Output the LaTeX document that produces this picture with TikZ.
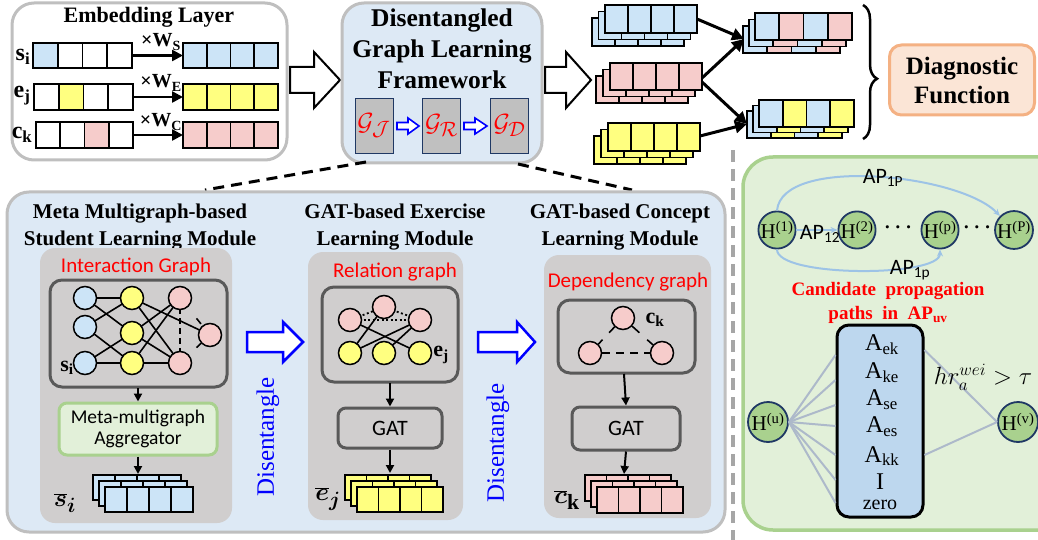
\documentclass[tikz,border=0pt]{standalone}
\usepackage{fontspec}
\setmainfont{Liberation Serif}
\newfontfamily\calib{Carlito}
\usepackage{bm}
\usetikzlibrary{arrows.meta,decorations.pathreplacing,calc}
\definecolor{cblue}{RGB}{204,228,247}
\definecolor{cyel}{RGB}{255,255,128}
\definecolor{cpink}{RGB}{246,204,203}
\definecolor{panelblue}{RGB}{221,233,245}
\definecolor{bordergray}{RGB}{191,191,191}
\definecolor{innergray}{RGB}{208,206,206}
\definecolor{darkgraytwo}{RGB}{89,89,89}
\definecolor{greenfill}{RGB}{226,240,217}
\definecolor{greenborder}{RGB}{169,209,142}
\definecolor{peach}{RGB}{251,229,214}
\definecolor{orangeb}{RGB}{244,177,131}
\definecolor{nodegreen}{RGB}{169,209,142}
\definecolor{navy}{RGB}{31,56,100}
\definecolor{apblue}{RGB}{157,195,230}
\definecolor{boxblue}{RGB}{189,215,238}
\definecolor{edgegray}{RGB}{173,185,202}
\definecolor{gboxc}{RGB}{192,192,192}
\definecolor{dashgray}{RGB}{166,166,166}
\newcommand\fs[2]{\fontsize{#1}{#2}\selectfont}
\newcommand\vrow[5]{\foreach \cc [count=\ii from 0] in {#5}{\draw[cellst,fill=\cc] ({#1+\ii*(#3)},{#2}) rectangle ++({#3},{#4});}}
\newcommand\vstack[7]{\vrow{#1+2*(#6)}{#2+2*(#7)}{#3}{#4}{#5}\vrow{#1+#6}{#2+#7}{#3}{#4}{#5}\vrow{#1}{#2}{#3}{#4}{#5}}
\newcommand\barrow[7]{\draw[#7] ({#1},{#4-#5}) -- ({#2},{#4-#5}) -- ({#2},{#4-#6}) -- ({#3},{#4}) -- ({#2},{#4+#6}) -- ({#2},{#4+#5}) -- ({#1},{#4+#5}) -- cycle;}
\tikzset{
 cellst/.style={draw=black,line width=1.8pt},
 panel/.style={draw=bordergray,line width=3pt,rounded corners=22pt},
 ttl/.style={font=\fs{21}{27}\bfseries,align=center},
 redlbl/.style={text=red,font=\calib\fs{21}{24}},
 gnode/.style={circle,draw=black,line width=1.5pt,minimum size=23pt,inner sep=0pt},
 gedge/.style={line width=1.6pt},
 varrow/.style={-{Triangle[length=8pt,width=8pt]},line width=2pt},
 fatarrow/.style={-{Triangle[length=12pt,width=12pt]},line width=3pt},
 innerbox/.style={draw=darkgraytwo,line width=3pt,rounded corners=12pt},
 gatbox/.style={draw=darkgraytwo,fill=innergray,line width=3pt,rounded corners=8pt,font=\calib\fs{22}{24}},
 gsq/.style={draw=navy,fill=gboxc,line width=0.8pt,minimum width=38pt,minimum height=55pt,inner sep=0pt,text=red,font=\fs{31}{31}},
 hnode/.style={circle,draw=navy,fill=nodegreen,line width=1.8pt,minimum size=37pt,inner sep=0pt,font=\fs{21}{21}},
 apedge/.style={draw=apblue,line width=2pt,-{Stealth[length=7pt,width=6pt]}},
 ledge/.style={draw=edgegray,line width=2pt},
 aplbl/.style={font=\calib\fs{22}{22}},
 barlbl/.style={font=\fs{31}{31}},
 dis/.style={rotate=90,text=blue,font=\fs{25}{25}},
 emlbl/.style={font=\fs{24}{24}\bfseries},
 wlbl/.style={font=\fs{20}{20}\bfseries},
}
\begin{document}
\begin{tikzpicture}[x=1pt,y=-1pt]
\useasboundingbox (0,0) rectangle (1038,540);
% ---------- Embedding layer
\draw[panel,fill=white] (12,3) rectangle (287,160);
\node[font=\fs{22}{24}\bfseries] (embT) at (149,17) {Embedding Layer};
\vrow{33}{43}{24.75}{25}{cblue,white,white,white}
\vrow{34}{84}{24.75}{26}{white,cyel,white,white}
\vrow{36}{122}{24.25}{26}{white,white,cpink,white}
\vrow{183}{43}{23.75}{25}{cblue,cblue,cblue,cblue}
\vrow{183}{84}{23.75}{26}{cyel,cyel,cyel,cyel}
\vrow{183}{122}{23.75}{26}{cpink,cpink,cpink,cpink}
\coordinate (sa) at (132,55.5); \coordinate (sb) at (183,55.5);
\coordinate (ea) at (133,97); \coordinate (eb) at (183,97);
\coordinate (ca) at (133,135); \coordinate (cb) at (183,135);
\foreach \a/\b in {sa/sb,ea/eb,ca/cb}{\draw[-{Triangle[length=11pt,width=11pt]},line width=2.5pt] (\a) -- (\b);}
\node[wlbl] (ws) at (161,42) {×W\textsubscript{S}};
\node[wlbl] (we) at (161,83) {×W\textsubscript{E}};
\node[wlbl] (wc) at (161,122) {×W\textsubscript{C}};
\node[emlbl] (si) at (23,57) {s\textsubscript{i}};
\node[emlbl] (ej) at (22,96) {e\textsubscript{j}};
\node[emlbl] (ck) at (22,135) {c\textsubscript{k}};
% big arrows
\barrow{290}{314}{340}{80}{13}{28}{line width=2pt,draw=black,fill=white}
\barrow{545}{566}{591}{80}{13}{28}{line width=2pt,draw=black,fill=white}
% ---------- Framework
\draw[panel,fill=panelblue] (342,3) rectangle (542,163);
\node[font=\fs{25.5}{31}\bfseries,align=center] (fwT) at (442,49) {Disentangled\\Graph Learning\\Framework};
\node[gsq] (gJ) at (374,125.5) {$\mathcal{G}_{\mathcal{J}}$};
\node[gsq] (gR) at (441.5,125.5) {$\mathcal{G}_{\mathcal{R}}$};
\node[gsq] (gD) at (509.5,125.5) {$\mathcal{G}_{\mathcal{D}}$};
\barrow{397}{408}{419}{126}{3.5}{8}{draw=blue,line width=1.6pt,fill=white}
\barrow{464}{475}{487}{126}{3.5}{8}{draw=blue,line width=1.6pt,fill=white}
% dashed zoom lines
\coordinate (dl1) at (366,162); \coordinate (dl2) at (205,190);
\coordinate (dr1) at (518,164); \coordinate (dr2) at (632,190);
\draw[line width=3pt,dash pattern=on 11pt off 7pt] (dl1) -- (dl2);
\draw[line width=3pt,dash pattern=on 11pt off 7pt] (dr1) -- (dr2);
% ---------- stacks top right
\vstack{605}{5}{23}{28}{cblue,cblue,cblue,cblue}{-6.5}{6.5}
\vstack{610}{63}{23}{27}{cpink,cpink,cpink,cpink}{-7}{6.5}
\vstack{608}{123}{23}{28}{cyel,cyel,cyel,cyel}{-7}{6.5}
\vstack{755}{13}{24.25}{27}{cblue,cpink,cblue,cpink}{-6}{6.5}
\vstack{759}{100}{23.75}{27}{cblue,cyel,cblue,cyel}{-6}{5.5}
\coordinate (bsO) at (697,19); \coordinate (psO) at (702,78); \coordinate (psO2) at (702,82); \coordinate (ysO) at (700,136);
\coordinate (trI) at (744,39); \coordinate (brI) at (747,124);
\draw[fatarrow] (bsO) -- (trI);
\draw[fatarrow] (psO) -- (trI);
\draw[fatarrow] (psO2) -- (brI);
\draw[fatarrow] (ysO) -- (brI);
% brace
\coordinate (br1) at (863,5); \coordinate (br2) at (863,139);
\draw[decorate,decoration={brace,amplitude=14pt,aspect=0.55},line width=2.5pt] (br1) -- (br2);
\node[draw=orangeb,fill=peach,line width=3pt,rounded corners=12pt,minimum width=145pt,minimum height=70pt,font=\fs{25}{29}\bfseries,align=center] (diag) at (962,80) {Diagnostic\\Function};
% vertical gray dashed divider
\coordinate (vd1) at (733,150); \coordinate (vd2) at (733,540);
\draw[dashgray,line width=3.5pt,dash pattern=on 12pt off 7pt] (vd1) -- (vd2);
% ---------- bottom panel
\draw[panel,fill=panelblue] (7,192) rectangle (725,532);
\node[ttl] (m1T) at (140,227) {Meta Multigraph-based\\Student Learning Module};
\node[ttl] (m2T) at (395,227) {GAT-based Exercise\\Learning Module};
\node[ttl] (m3T) at (620,227) {GAT-based Concept\\Learning Module};
\fill[innergray,rounded corners=15pt] (40,248) rectangle (232,523);
\fill[innergray,rounded corners=15pt] (308,252) rectangle (463,520);
\fill[innergray,rounded corners=15pt] (544,255) rectangle (711,518);
\node[redlbl] (ig) at (136,267) {Interaction Graph};
\node[redlbl] (rg) at (395,272) {Relation graph};
\node[redlbl] (dg) at (628,282) {Dependency graph};
\draw[innerbox] (50,280) rectangle (227,387);
\draw[innerbox] (322,287) rectangle (458,382);
\draw[innerbox] (558,300) rectangle (695,373);
% interaction graph
\coordinate (b1) at (85,298); \coordinate (b2) at (85,327); \coordinate (b3) at (85,363);
\coordinate (y1) at (132,298); \coordinate (y2) at (132,333); \coordinate (y3) at (132,363);
\coordinate (p1) at (180,298); \coordinate (p2) at (210,335); \coordinate (p3) at (180,363);
\foreach \a/\b in {b1/y1,b1/y2,b2/y1,b2/y3,b3/y2,b3/y3,y1/p3,y1/p2,y2/p1,y2/p3,y3/p1,y3/p3}{\draw[gedge] (\a) -- (\b);}
\draw[gedge,dash pattern=on 6pt off 4pt] (p1) -- (p3);
\foreach \n in {b1,b2,b3}{\node[gnode,fill=cblue] (N\n) at (\n) {};}
\foreach \n in {y1,y2,y3}{\node[gnode,fill=cyel] (N\n) at (\n) {};}
\foreach \n in {p1,p2,p3}{\node[gnode,fill=cpink] (N\n) at (\n) {};}
\draw[gedge] ($(Np1)!0.55!(Np2)$) -- ($(Np1)!0.7!(Np2)$);
\draw[gedge] ($(Np3)!0.55!(Np2)$) -- ($(Np3)!0.7!(Np2)$);
\node[font=\fs{22}{22}\bfseries] (sil) at (67,368) {s\textsubscript{i}};
% relation graph
\coordinate (q1) at (350,320); \coordinate (q2) at (384,307); \coordinate (q3) at (420,320);
\coordinate (r1) at (350,353); \coordinate (r2) at (384,353); \coordinate (r3) at (420,353);
\foreach \a/\b in {q1/q2,q2/q3,q1/q3}{\draw[line width=1.8pt,dash pattern=on 2pt off 2.5pt] (\a) -- (\b);}
\foreach \a/\b in {q1/r3,q2/r1,q3/r1,q3/r2}{\draw[gedge] (\a) -- (\b);}
\foreach \n in {q1,q2,q3}{\node[gnode,fill=cpink] (N\n) at (\n) {};}
\foreach \n in {r1,r2,r3}{\node[gnode,fill=cyel] (N\n) at (\n) {};}
\node[font=\fs{22}{22}\bfseries] (ejl) at (441,355) {e\textsubscript{j}};
% dependency graph
\node[gnode,fill=cpink] (dt) at (623,318) {};
\node[gnode,fill=cpink] (dlft) at (590,353) {};
\node[gnode,fill=cpink] (drt) at (662,353) {};
\draw[gedge] (dt) -- ($(dt)!0.42!(dlft)$);
\draw[gedge] ($(dt)!0.62!(dlft)$) -- (dlft);
\draw[gedge] (dt) -- ($(dt)!0.42!(drt)$);
\draw[gedge] ($(dt)!0.62!(drt)$) -- (drt);
\draw[gedge,dash pattern=on 8pt off 6pt] (dlft) -- (drt);
\node[font=\fs{22}{22}\bfseries] (ckl) at (655,320) {c\textsubscript{k}};
% aggregator / GAT
\node[draw=greenborder,fill=greenfill,line width=3pt,rounded corners=8pt,minimum width=158pt,minimum height=52pt,align=center,font=\calib\fs{19.5}{21}] (agg) at (138,429) {Meta-multigraph\\Aggregator};
\node[gatbox,minimum width=104pt,minimum height=40pt] (gat1) at (390,428) {GAT};
\node[gatbox,minimum width=108pt,minimum height=43pt] (gat2) at (626,428.5) {GAT};
\coordinate (i1) at (138,388); \coordinate (o1) at (138,474);
\coordinate (i2) at (390,383); \coordinate (o2) at (390,473);
\coordinate (i3) at (624,374); \coordinate (o3) at (624,474);
\draw[varrow] (i1) -- (agg.north);
\draw[varrow] (agg.south) -- (o1);
\draw[varrow] (i2) -- (gat1.north);
\draw[varrow] (gat1.south) -- (o2);
\draw[varrow] (i3) -- (gat2.north);
\draw[varrow] (gat2.south) -- (o3);
\vstack{105}{487}{22}{25}{cblue,cblue,cblue,cblue}{-6}{-6}
\vstack{357}{487}{21.5}{25}{cyel,cyel,cyel,cyel}{-6}{-6}
\vstack{597}{487}{21.5}{26}{cpink,cpink,cpink,cpink}{-6}{-6}
\node[barlbl] (sbar) at (65,503) {$\overline{\bm{s}}_{\bm{i}}$};
\node[barlbl] (ebar) at (328,499) {$\overline{\bm{e}}_{\bm{j}}$};
\node[barlbl] (cbar) at (567,500) {$\overline{\bm{c}}_{\mathbf{k}}$};
% disentangle arrows
\barrow{247}{283}{303}{342}{10}{20}{draw=blue,line width=2.5pt,fill=white}
\barrow{478}{517}{535}{342}{10}{20}{draw=blue,line width=2.5pt,fill=white}
\node[dis] (dis1) at (268,437) {Disentangle};
\node[dis] (dis2) at (498,443) {Disentangle};
% ---------- right green panel
\draw[draw=greenborder,fill=greenfill,line width=3.5pt,rounded corners=30pt] (743,157) rectangle (1070,530);
\node[hnode] (H1) at (777,230) {H\textsuperscript{(1)}};
\node[hnode] (H2) at (857,230) {H\textsuperscript{(2)}};
\node[hnode] (Hp) at (940,230) {H\textsuperscript{(p)}};
\node[hnode] (HP) at (1014,230) {H\textsuperscript{(P)}};
\node[font=\fs{22}{22}] (dots1) at (898,228) {$\bm{\cdots}$};
\node[font=\fs{22}{22}] (dots2) at (977,228) {$\bm{\cdots}$};
\draw[apedge] (H1.north) .. controls +(5,-55) and +(-40,-42) .. (HP.north west);
\draw[apedge] (H1.south) .. controls +(0,28) and +(0,28) .. (Hp.south);
\draw[apedge] (H1.east) -- (H2.west);
\node[aplbl] (ap12) at (820,234) {AP\textsubscript{12}};
\node[aplbl] (ap1P) at (883,178) {AP\textsubscript{1P}};
\node[aplbl] (ap1p) at (910,270) {AP\textsubscript{1p}};
\node[text=red,font=\fs{19}{24}\bfseries,align=center] (cand) at (888,303) {Candidate\ \ propagation\\paths\ \ in\ \ AP\textsubscript{uv}};
\node[hnode,minimum size=40pt] (Hu) at (768,422) {H\textsuperscript{(u)}};
\node[hnode,minimum size=40pt] (Hv) at (1018,422) {H\textsuperscript{(v)}};
\node[draw=black,fill=boxblue,line width=3pt,rounded corners=12pt,minimum width=86pt,minimum height=192pt] (apbox) at (880,421) {};
\foreach \yy [count=\k] in {355,380,405,426,455,480,503}{\coordinate (L\k) at (apbox.west |- 0,\yy); \draw[ledge] (Hu.east) -- (L\k);}
\coordinate (R1) at (apbox.east |- 0,350); \coordinate (R2) at (apbox.east |- 0,455);
\draw[ledge] (R1) -- (Hv.west);
\draw[ledge] (R2) -- (Hv.west);
\node[font=\fs{24}{24}] (aek) at (882,345) {A\textsubscript{ek}};
\node[font=\fs{24}{24}] (ake) at (882,373) {A\textsubscript{ke}};
\node[font=\fs{24}{24}] (ase) at (882,400) {A\textsubscript{se}};
\node[font=\fs{24}{24}] (aes) at (882,427) {A\textsubscript{es}};
\node[font=\fs{24}{24}] (akk) at (882,456) {A\textsubscript{kk}};
\node[font=\fs{24}{24}] (aI) at (880,482) {I};
\node[font=\fs{20}{20}] (azero) at (880,505) {zero};
\node[font=\fs{25}{25},inner sep=1pt] (hr) at (983,377) {$hr_a^{wei} > \tau$};
\end{tikzpicture}
\end{document}
